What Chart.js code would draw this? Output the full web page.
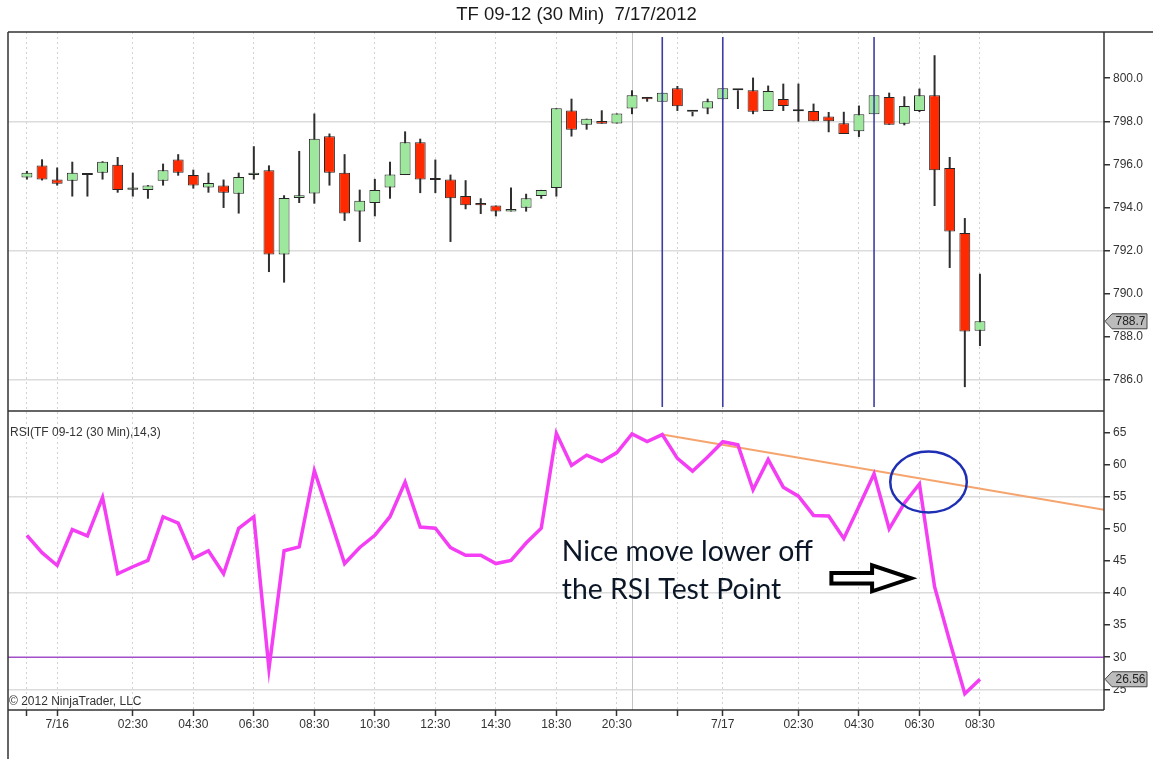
<!DOCTYPE html>
<html><head><meta charset="utf-8">
<script src="https://cdn.jsdelivr.net/npm/chart.js@4.4.1/dist/chart.umd.min.js"></script>
<style>html,body{margin:0;padding:0;background:#fff;overflow:hidden}#wrap{position:relative;width:1153px;height:759px}</style>
</head><body><div id="wrap"><canvas id="c" width="1153" height="759"></canvas></div>
<script>
// ---------- data ----------
const chartTitle = 'TF 09-12 (30 Min)  7/17/2012';
const rsiLabel = 'RSI(TF 09-12 (30 Min),14,3)';
const copyright = '\u00A9 2012 NinjaTrader, LLC';

const opens  = [795.38,795.94,795.29,795.24,795.50,795.61,795.98,794.82,794.81,795.24,796.22,795.50,794.92,795.01,794.63,795.50,795.72,791.80,794.43,794.64,797.30,795.61,793.81,794.20,794.92,795.50,797.02,795.27,795.29,794.53,794.20,794.08,793.81,793.98,794.53,794.90,798.50,797.84,798.01,797.90,798.59,799.13,798.91,799.53,798.44,798.59,799.02,799.44,799.44,798.48,799.04,798.46,798.48,798.22,797.91,797.54,798.33,799.13,797.89,798.48,799.21,795.83,792.80,788.26];
const highs  = [795.69,796.23,795.85,796.12,795.52,796.14,796.34,795.61,795.03,796.03,796.47,795.75,795.61,795.29,795.61,796.84,795.95,794.56,796.62,798.36,797.43,796.47,794.82,795.32,796.12,797.53,797.19,796.22,795.52,795.26,794.42,794.08,794.92,794.63,794.81,798.60,799.05,798.12,798.51,798.36,799.44,799.13,799.32,799.64,798.44,799.05,799.53,799.44,800.03,799.66,799.75,799.75,798.82,798.43,798.44,798.73,799.21,799.33,799.16,799.52,801.07,796.34,793.50,790.91];
const lows   = [795.29,795.25,795.01,794.50,794.50,795.29,794.68,794.50,794.40,795.01,795.47,794.87,794.68,793.97,793.71,795.29,790.99,790.50,794.20,794.17,795.01,793.37,792.39,793.58,794.40,795.50,794.66,794.66,792.39,793.91,793.69,793.58,793.81,793.80,794.40,794.50,797.29,797.61,797.89,797.90,798.33,798.91,798.91,798.48,798.23,798.33,799.02,798.57,798.33,798.48,798.48,797.98,798.00,797.49,797.41,797.27,798.33,797.84,797.81,798.43,794.06,791.18,785.64,787.55];
const closes = [795.61,795.29,795.10,795.61,795.50,796.12,794.81,794.92,795.01,795.72,795.61,795.01,795.13,794.68,795.41,795.61,791.80,794.43,794.56,797.19,795.61,793.71,794.31,794.81,795.52,797.02,795.29,795.27,794.42,794.09,794.09,793.81,793.92,794.42,794.81,798.60,797.61,798.12,797.89,798.36,799.21,799.02,799.32,798.70,798.44,798.93,799.53,799.44,798.44,799.41,798.71,798.46,798.00,798.00,797.41,798.33,799.21,797.84,798.71,799.21,795.72,792.88,788.23,788.70];
const rsi    = [49.0,46.3,44.3,49.9,48.9,54.9,43.0,44.1,45.1,51.9,50.9,45.4,46.6,43.0,50.1,51.9,28.2,46.6,47.2,59.1,51.9,44.6,47.1,49.0,51.9,57.3,50.3,50.1,47.1,45.9,45.9,44.6,45.1,47.8,50.1,64.9,59.9,61.5,60.5,61.9,64.8,63.6,64.7,61.0,59.0,61.2,63.6,63.1,56.1,60.8,56.5,55.1,52.1,52.0,48.5,53.5,58.6,50.0,54.0,57.0,41.0,32.5,24.3,26.56];

const timeTickIdx    = [0,2,7,11,15,19,23,27,31,35,39,43,46,51,55,59,63];
const timeTickLabels = ['','7/16','02:30','04:30','06:30','08:30','10:30','12:30','14:30','18:30','20:30','','7/17','02:30','04:30','06:30','08:30'];
const priceTicks = [786,788,790,792,794,796,798,800];
const priceGridLevels = [786,792,798];
const rsiTicks = [25,30,35,40,45,50,55,60,65];
const rsiGridLevels = [25,40,55];
const rsiLevel = 30;
const trendX = [42, 71.2];
const trendY = [64.7, 53.0];
const markerBars = [42,46,56];
const sessionBreakBar = 40;
const xRange = [-1.25, 71.2];
const priceRange = [784.53, 802.15];
const rsiRange = [21.77, 68.38];

// annotations (data units: bar index / RSI value)
const noteLines = ['Nice move lower off','the RSI Test Point'];
const noteAnchor = {x: 35.36, y1: 46.45, y2: 40.5};
const arrowPts = {x0: 53.18, xh: 55.87, x1: 58.45, y: 42.3};
const ellipseAnn = {x: 59.6, y: 57.3, rx: 2.53, ry: 4.75};

// ---------- chart ----------
const fam = '"Liberation Sans", Arial, sans-serif';
const idx = opens.map((_, i) => i);
const bodyColors = idx.map(i => closes[i] > opens[i] ? '#9de89d' : (closes[i] < opens[i] ? '#ff2a00' : '#222'));

const framePlugin = {
  id: 'frame',
  beforeDatasetsDraw(chart) {
    const {ctx, chartArea: a, scales} = chart;
    const x = scales.x.getPixelForValue(sessionBreakBar);
    ctx.save();
    ctx.strokeStyle = '#c4c4c4'; ctx.lineWidth = 1;
    ctx.beginPath(); ctx.moveTo(Math.round(x)+0.5, a.top); ctx.lineTo(Math.round(x)+0.5, a.bottom); ctx.stroke();
    ctx.restore();
  },
  afterDatasetsDraw(chart) {
    const {ctx, chartArea: a, scales} = chart;
    const ps = scales.price, rs = scales.rsi, xs = scales.x;
    ctx.save();
    // marker lines
    ctx.strokeStyle = '#3d3da8'; ctx.lineWidth = 1.6;
    markerBars.forEach(b => {
      const x = xs.getPixelForValue(b);
      ctx.beginPath(); ctx.moveTo(x, ps.top + 5); ctx.lineTo(x, ps.bottom - 4); ctx.stroke();
    });
    // ellipse
    const ex = xs.getPixelForValue(ellipseAnn.x), ey = rs.getPixelForValue(ellipseAnn.y);
    const erx = Math.abs(xs.getPixelForValue(ellipseAnn.x + ellipseAnn.rx) - ex);
    const ery = Math.abs(rs.getPixelForValue(ellipseAnn.y + ellipseAnn.ry) - ey);
    ctx.strokeStyle = '#1e2fb4'; ctx.lineWidth = 2.5;
    ctx.beginPath(); ctx.ellipse(ex, ey, erx, ery, 0, 0, Math.PI * 2); ctx.stroke();
    // arrow
    const ax0 = xs.getPixelForValue(arrowPts.x0), axh = xs.getPixelForValue(arrowPts.xh), ax1 = xs.getPixelForValue(arrowPts.x1), ay = rs.getPixelForValue(arrowPts.y);
    ctx.beginPath();
    ctx.moveTo(ax0, ay - 5.3); ctx.lineTo(axh, ay - 5.3); ctx.lineTo(axh, ay - 13); ctx.lineTo(ax1, ay);
    ctx.lineTo(axh, ay + 13); ctx.lineTo(axh, ay + 5.3); ctx.lineTo(ax0, ay + 5.3); ctx.closePath();
    ctx.fillStyle = '#fff'; ctx.fill();
    ctx.strokeStyle = '#000'; ctx.lineWidth = 4; ctx.lineJoin = 'miter'; ctx.stroke();
    // note text
    ctx.font = '28px Lato, "Open Sans", sans-serif';
    const w = ctx.measureText(noteLines[0]).width;
    const fs = 28 * 251 / w;
    ctx.font = fs.toFixed(2) + 'px Lato, "Open Sans", sans-serif';
    ctx.fillStyle = '#0b1626'; ctx.textBaseline = 'middle'; ctx.textAlign = 'left';
    const tx = xs.getPixelForValue(noteAnchor.x);
    ctx.fillText(noteLines[0], tx, rs.getPixelForValue(noteAnchor.y1));
    ctx.fillText(noteLines[1], tx, rs.getPixelForValue(noteAnchor.y2));
    ctx.restore();
  },
  afterDraw(chart) {
    const {ctx, chartArea: a, scales} = chart;
    const ps = scales.price, rs = scales.rsi;
    ctx.save();
    // title
    ctx.font = '18.5px ' + fam; ctx.fillStyle = '#1a1a1a'; ctx.textAlign = 'center'; ctx.textBaseline = 'alphabetic';
    ctx.fillText(chartTitle, chart.width / 2, 20);
    // frame
    ctx.strokeStyle = '#333'; ctx.lineWidth = 1.5;
    ctx.beginPath();
    ctx.moveTo(a.left, a.top); ctx.lineTo(chart.width, a.top);
    ctx.moveTo(a.left, a.top); ctx.lineTo(a.left, chart.height);
    ctx.moveTo(a.left, ps.bottom); ctx.lineTo(a.right, ps.bottom);
    ctx.moveTo(a.left, a.bottom); ctx.lineTo(a.right, a.bottom);
    ctx.moveTo(a.right, a.top); ctx.lineTo(a.right, a.bottom);
    ctx.stroke();
    // panel labels
    ctx.font = '12px ' + fam; ctx.fillStyle = '#333'; ctx.textAlign = 'left'; ctx.textBaseline = 'middle';
    ctx.fillText(rsiLabel, a.left + 2, rs.top + 22);
    ctx.fillText(copyright, a.left + 1, a.bottom - 8);
    // last value tags
    const tag = (y, txt) => {
      const x0 = a.right + 1, x1 = a.right + 8, x2 = chart.width - 6, h = 7.5;
      ctx.beginPath();
      ctx.moveTo(x0, y); ctx.lineTo(x1, y - h); ctx.lineTo(x2, y - h); ctx.lineTo(x2, y + h); ctx.lineTo(x1, y + h); ctx.closePath();
      ctx.fillStyle = '#bcbcbc'; ctx.fill();
      ctx.strokeStyle = '#444'; ctx.lineWidth = 1; ctx.stroke();
      ctx.fillStyle = '#222'; ctx.font = '12px ' + fam; ctx.textAlign = 'center'; ctx.textBaseline = 'middle';
      ctx.fillText(txt, (x1 + x2) / 2 + 1, y + 0.5);
    };
    const lastC = closes[closes.length - 1], lastR = rsi[rsi.length - 1];
    tag(ps.getPixelForValue(lastC), lastC.toFixed(1));
    tag(rs.getPixelForValue(lastR), lastR.toFixed(2));
    ctx.restore();
  }
};

new Chart(document.getElementById('c'), {
  type: 'bar',
  data: {
    datasets: [
      {type: 'line', label: 'RSI', data: idx.map(i => ({x: i, y: rsi[i]})), yAxisID: 'rsi', borderColor: '#f43ef4', borderWidth: 3.5, pointRadius: 0, tension: 0, order: 0},
      {type: 'line', label: 'Trend', data: trendX.map((x, i) => ({x, y: trendY[i]})), yAxisID: 'rsi', borderColor: '#f5a46e', borderWidth: 2, pointRadius: 0, order: 1},
      {type: 'line', label: 'Level', data: [{x: xRange[0], y: rsiLevel}, {x: xRange[1], y: rsiLevel}], yAxisID: 'rsi', borderColor: '#a24ec9', borderWidth: 1.5, pointRadius: 0, order: 2},
      {type: 'bar', label: 'Body', data: idx.map(i => ({x: i, y: [opens[i], closes[i]]})), yAxisID: 'price', backgroundColor: bodyColors, borderColor: '#262626', borderWidth: 1, borderSkipped: false, grouped: false, maxBarThickness: 12, minBarLength: 2, order: 3},
      {type: 'bar', label: 'Wick', data: idx.map(i => ({x: i, y: [lows[i], highs[i]]})), yAxisID: 'price', backgroundColor: '#2e2e2e', borderWidth: 0, grouped: false, maxBarThickness: 2, order: 4}
    ]
  },
  options: {
    responsive: false, animation: false, devicePixelRatio: 1,
    layout: {padding: {top: 32, left: 8, right: 0, bottom: 0}},
    plugins: {legend: {display: false}, tooltip: {enabled: false}, title: {display: false}},
    scales: {
      x: {
        type: 'linear', min: xRange[0], max: xRange[1], offset: false,
        afterBuildTicks: s => { s.ticks = timeTickIdx.map(v => ({value: v})); },
        afterFit: s => { s.height = 49; },
        ticks: {autoSkip: false, maxRotation: 0, color: '#333', font: {size: 12, family: fam}, padding: 1,
          callback: (v, i) => timeTickLabels[i]},
        grid: {offset: false, color: '#d2d2d2', lineWidth: 1, tickColor: '#333', tickLength: 6, tickWidth: 1.5, tickBorderDash: []},
        border: {display: false, dash: [2, 3]}
      },
      price: {
        type: 'linear', position: 'right', stack: 'panes', stackWeight: 379,
        min: priceRange[0], max: priceRange[1],
        afterBuildTicks: s => { s.ticks = priceTicks.map(v => ({value: v})); },
        afterFit: s => { s.width = 49; },
        ticks: {color: '#333', font: {size: 12, family: fam}, padding: 3, callback: v => Number(v).toFixed(1)},
        grid: {color: c => (c.tick && priceGridLevels.includes(c.tick.value)) ? '#dcdcdc' : 'rgba(0,0,0,0)', lineWidth: 1.5, tickColor: '#333', tickLength: 6, tickWidth: 1.5},
        border: {display: false}
      },
      rsi: {
        type: 'linear', position: 'right', stack: 'panes', stackWeight: 299,
        min: rsiRange[0], max: rsiRange[1],
        afterBuildTicks: s => { s.ticks = rsiTicks.map(v => ({value: v})); },
        afterFit: s => { s.width = 49; },
        ticks: {color: '#333', font: {size: 12, family: fam}, padding: 3, callback: v => String(v)},
        grid: {color: c => (c.tick && rsiGridLevels.includes(c.tick.value)) ? '#dcdcdc' : 'rgba(0,0,0,0)', lineWidth: 1.5, tickColor: '#333', tickLength: 6, tickWidth: 1.5},
        border: {display: false}
      }
    }
  },
  plugins: [framePlugin]
});
</script></body></html>
